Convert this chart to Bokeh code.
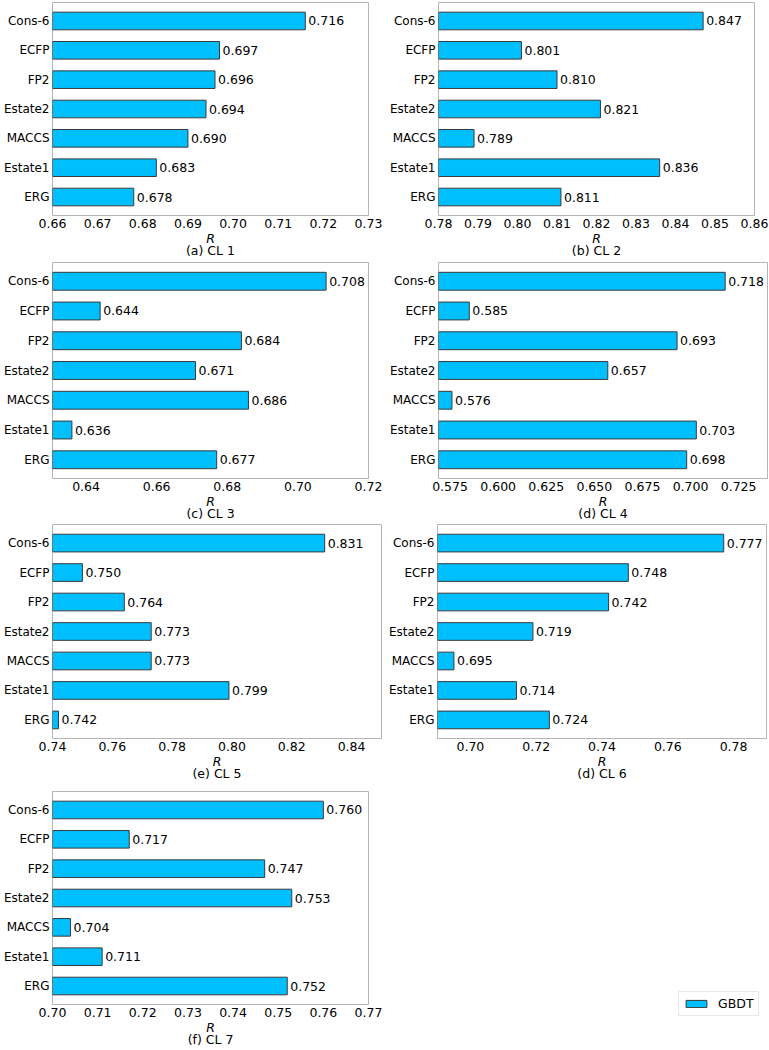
from bokeh.plotting import figure
from bokeh.layouts import column, row
from bokeh.models import (FixedTicker, PrintfTickFormatter, Legend, LegendItem, LinearAxis,
                          ColumnDataSource, FactorRange, Range1d)
from bokeh.core.properties import value
from bokeh.embed import file_html
from bokeh.resources import INLINE

# categories, bottom to top
fingerprints = ["ERG", "Estate1", "MACCS", "Estate2", "FP2", "ECFP", "Cons-6"]

cl1 = [0.678, 0.683, 0.690, 0.694, 0.696, 0.697, 0.716]
cl2 = [0.811, 0.836, 0.789, 0.821, 0.810, 0.801, 0.847]
cl3 = [0.677, 0.636, 0.686, 0.671, 0.684, 0.644, 0.708]
cl4 = [0.698, 0.703, 0.576, 0.657, 0.693, 0.585, 0.718]
cl5 = [0.742, 0.799, 0.773, 0.773, 0.764, 0.750, 0.831]
cl6 = [0.724, 0.714, 0.695, 0.719, 0.742, 0.748, 0.777]
cl7 = [0.752, 0.711, 0.704, 0.753, 0.747, 0.717, 0.760]

captions = ["(a) CL 1", "(b) CL 2", "(c) CL 3", "(d) CL 4", "(e) CL 5", "(d) CL 6", "(f) CL 7"]

xlims = [(0.66, 0.73), (0.78, 0.86), (0.6305, 0.72), (0.569, 0.740),
         (0.74, 0.85), (0.69, 0.79), (0.70, 0.77)]
ticks1 = [0.66, 0.67, 0.68, 0.69, 0.70, 0.71, 0.72, 0.73]
ticks2 = [0.78, 0.79, 0.80, 0.81, 0.82, 0.83, 0.84, 0.85, 0.86]
ticks3 = [0.64, 0.66, 0.68, 0.70, 0.72]
ticks4 = [0.575, 0.600, 0.625, 0.650, 0.675, 0.700, 0.725]
ticks5 = [0.74, 0.76, 0.78, 0.80, 0.82, 0.84]
ticks6 = [0.70, 0.72, 0.74, 0.76, 0.78]
ticks7 = [0.70, 0.71, 0.72, 0.73, 0.74, 0.75, 0.76, 0.77]

series_name = "GBDT"

FONT = "DejaVu Sans"
FS = "12.5px"
FS_Y = "12px"
BAR_FILL = "#00bfff"
BAR_LINE = "#3a3a3a"
FRAME = "#b5b5b5"


def style_axis(ax):
    ax.axis_line_color = None
    ax.major_tick_line_color = None
    ax.minor_tick_line_color = None
    ax.major_tick_out = 0
    ax.major_tick_in = 0
    ax.minor_tick_out = 0
    ax.minor_tick_in = 0
    ax.major_label_text_font = FONT
    ax.major_label_text_font_size = FS
    ax.major_label_text_color = "black"
    ax.axis_label_text_font = FONT
    ax.axis_label_text_font_size = FS
    ax.axis_label_text_color = "black"


def panel(vals, caption, xlim, ticks, fmt, bl, fw, br, bt, fh, bb):
    src = ColumnDataSource(dict(fp=fingerprints, v=vals,
                                lab=["%.3f" % x for x in vals]))
    p = figure(y_range=FactorRange(factors=fingerprints, range_padding=0.26 / 7),
               x_range=Range1d(*xlim), frame_width=fw, frame_height=fh,
               min_border_left=bl, min_border_right=br, min_border_top=bt,
               min_border_bottom=bb, output_backend="svg", toolbar_location=None,
               background_fill_color="white", border_fill_color="white")
    bars = p.hbar(y="fp", left=0, right="v", height=0.6, source=src,
                  fill_color=BAR_FILL, line_color=BAR_LINE, line_width=1)
    p.text(x="v", y="fp", text="lab", source=src, x_offset=3,
           text_baseline="middle", text_align="left",
           text_font=value(FONT), text_font_size=FS, text_color="black")
    p.xgrid.visible = False
    p.ygrid.visible = False
    p.outline_line_color = FRAME
    p.outline_line_width = 1
    style_axis(p.xaxis[0])
    style_axis(p.yaxis[0])
    p.yaxis.major_label_text_font_size = FS_Y
    p.yaxis.major_label_standoff = 3
    p.xaxis.ticker = FixedTicker(ticks=ticks)
    p.xaxis.formatter = PrintfTickFormatter(format=fmt)
    p.xaxis.major_label_standoff = 3
    p.xaxis.axis_label = "R"
    p.xaxis.axis_label_text_font_style = "italic"
    p.xaxis.axis_label_standoff = 0
    # caption below the axis title
    cap = LinearAxis(ticker=FixedTicker(ticks=[]), axis_label=caption)
    style_axis(cap)
    cap.major_label_standoff = 0
    cap.axis_label_standoff = -6
    cap.axis_label_text_font_style = "normal"
    p.add_layout(cap, "below")
    return p, bars


#                                                       bl  fw  br bt  fh   bb
pa, _ = panel(cl1, captions[0], xlims[0], ticks1, "%.2f", 51, 316, 17, 2, 213, 45)
pb, _ = panel(cl2, captions[1], xlims[1], ticks2, "%.2f", 53, 316, 15, 2, 213, 45)
pc, _ = panel(cl3, captions[2], xlims[2], ticks3, "%.2f", 51, 316, 17, 2, 216, 45)
pd, _ = panel(cl4, captions[3], xlims[3], ticks4, "%.3f", 53, 329, 2, 2, 216, 45)
pe, _ = panel(cl5, captions[4], xlims[4], ticks5, "%.2f", 51, 329, 4, 1, 214, 45)
pf, _ = panel(cl6, captions[5], xlims[5], ticks6, "%.2f", 52, 329, 3, 1, 214, 45)
pg, bars7 = panel(cl7, captions[6], xlims[6], ticks7, "%.2f", 51, 316, 401, 8, 213, 44)

# legend for the series, placed in the free area to the right of the last panel
leg = Legend(items=[LegendItem(label=series_name, renderers=[bars7])],
             location=(310, -12), margin=0, padding=4, spacing=0,
             glyph_width=26, glyph_height=9, label_standoff=9,
             label_text_font=FONT, label_text_font_size=FS,
             label_text_color="black", border_line_color="#d0d0d0",
             border_line_width=1, background_fill_color="white")
pg.add_layout(leg, "right")

layout = column(row(pa, pb), row(pc, pd), row(pe, pf), pg)

open("out.html", "w").write(file_html(layout, INLINE))
